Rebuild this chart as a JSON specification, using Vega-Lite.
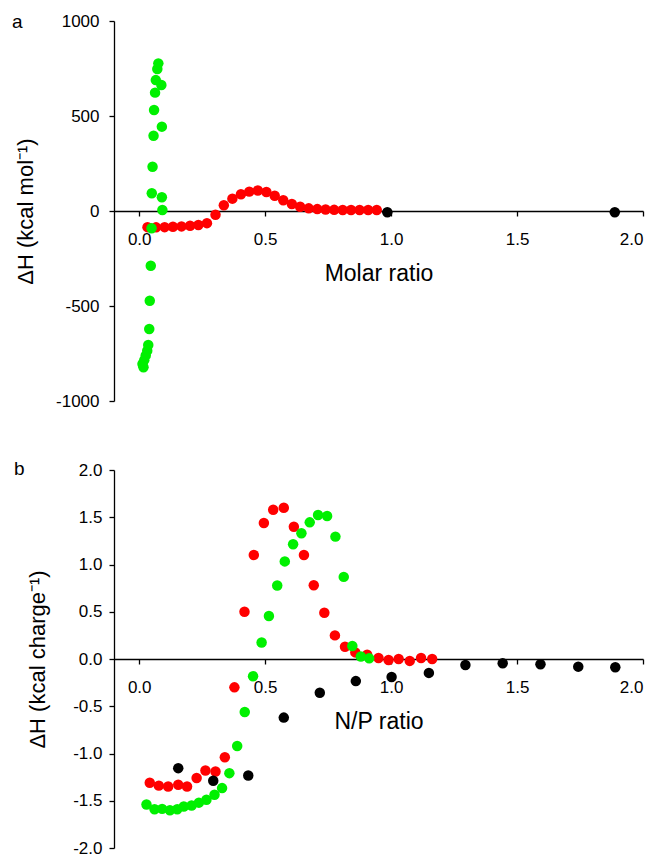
{
  "$schema": "https://vega.github.io/schema/vega-lite/v6.json",
  "background": "white",
  "padding": {"left": 12, "top": 12, "right": 5, "bottom": 0},
  "spacing": 51,
  "config": {
    "view": {"stroke": null},
    "axis": {
      "grid": false,
      "domainColor": "#000000",
      "tickColor": "#000000",
      "labelColor": "#000000",
      "titleColor": "#000000",
      "labelFont": "Liberation Sans",
      "titleFont": "Liberation Sans",
      "labelFontSize": 17,
      "titleFontSize": 22,
      "titleFontWeight": "normal",
      "domainWidth": 1.3,
      "tickWidth": 1.3,
      "tickSize": 5,
      "labelExpr": "replace(datum.label, '−', '-')"
    },
    "title": {"font": "Liberation Sans", "fontSize": 19, "fontWeight": "normal", "color": "#000000"}
  },
  "datasets": {
    "a": [
      {"s": "red", "x": 0.033, "y": -85},
      {"s": "red", "x": 0.067, "y": -86},
      {"s": "red", "x": 0.101, "y": -85},
      {"s": "red", "x": 0.134, "y": -83},
      {"s": "red", "x": 0.168, "y": -81},
      {"s": "red", "x": 0.202, "y": -78},
      {"s": "red", "x": 0.235, "y": -74},
      {"s": "red", "x": 0.269, "y": -64},
      {"s": "red", "x": 0.303, "y": -20},
      {"s": "red", "x": 0.336, "y": 30},
      {"s": "red", "x": 0.370, "y": 65},
      {"s": "red", "x": 0.404, "y": 88},
      {"s": "red", "x": 0.437, "y": 102},
      {"s": "red", "x": 0.471, "y": 108},
      {"s": "red", "x": 0.505, "y": 100},
      {"s": "red", "x": 0.538, "y": 80},
      {"s": "red", "x": 0.572, "y": 57},
      {"s": "red", "x": 0.606, "y": 37},
      {"s": "red", "x": 0.639, "y": 22},
      {"s": "red", "x": 0.673, "y": 14},
      {"s": "red", "x": 0.707, "y": 10},
      {"s": "red", "x": 0.740, "y": 8},
      {"s": "red", "x": 0.774, "y": 6},
      {"s": "red", "x": 0.808, "y": 5},
      {"s": "red", "x": 0.841, "y": 5},
      {"s": "red", "x": 0.875, "y": 5},
      {"s": "red", "x": 0.909, "y": 5},
      {"s": "red", "x": 0.943, "y": 5},
      {"s": "green", "x": 0.017, "y": -822},
      {"s": "green", "x": 0.013, "y": -805},
      {"s": "green", "x": 0.020, "y": -785},
      {"s": "green", "x": 0.026, "y": -760},
      {"s": "green", "x": 0.032, "y": -735},
      {"s": "green", "x": 0.036, "y": -705},
      {"s": "green", "x": 0.040, "y": -621},
      {"s": "green", "x": 0.042, "y": -472},
      {"s": "green", "x": 0.046, "y": -288},
      {"s": "green", "x": 0.049, "y": -91},
      {"s": "green", "x": 0.050, "y": 93},
      {"s": "green", "x": 0.053, "y": 233},
      {"s": "green", "x": 0.057, "y": 396},
      {"s": "green", "x": 0.059, "y": 532},
      {"s": "green", "x": 0.063, "y": 623},
      {"s": "green", "x": 0.066, "y": 689},
      {"s": "green", "x": 0.072, "y": 747},
      {"s": "green", "x": 0.076, "y": 777},
      {"s": "green", "x": 0.088, "y": 663},
      {"s": "green", "x": 0.090, "y": 444},
      {"s": "green", "x": 0.090, "y": 72},
      {"s": "green", "x": 0.092, "y": 5},
      {"s": "black", "x": 0.985, "y": -7},
      {"s": "black", "x": 1.888, "y": -7}
    ],
    "b": [
      {"s": "red", "x": 0.042, "y": -1.31},
      {"s": "red", "x": 0.078, "y": -1.34},
      {"s": "red", "x": 0.115, "y": -1.35},
      {"s": "red", "x": 0.155, "y": -1.33},
      {"s": "red", "x": 0.190, "y": -1.35},
      {"s": "red", "x": 0.228, "y": -1.26},
      {"s": "red", "x": 0.263, "y": -1.18},
      {"s": "red", "x": 0.303, "y": -1.19},
      {"s": "red", "x": 0.340, "y": -1.04},
      {"s": "red", "x": 0.378, "y": -0.30},
      {"s": "red", "x": 0.418, "y": 0.50},
      {"s": "red", "x": 0.455, "y": 1.10},
      {"s": "red", "x": 0.495, "y": 1.44},
      {"s": "red", "x": 0.532, "y": 1.58},
      {"s": "red", "x": 0.574, "y": 1.60},
      {"s": "red", "x": 0.614, "y": 1.40},
      {"s": "red", "x": 0.654, "y": 1.10},
      {"s": "red", "x": 0.693, "y": 0.78},
      {"s": "red", "x": 0.735, "y": 0.49},
      {"s": "red", "x": 0.777, "y": 0.25},
      {"s": "red", "x": 0.817, "y": 0.13},
      {"s": "red", "x": 0.858, "y": 0.07},
      {"s": "red", "x": 0.905, "y": 0.045},
      {"s": "red", "x": 0.950, "y": 0.01},
      {"s": "red", "x": 0.990, "y": -0.01},
      {"s": "red", "x": 1.030, "y": 0.0},
      {"s": "red", "x": 1.074, "y": -0.02},
      {"s": "red", "x": 1.119, "y": 0.01},
      {"s": "red", "x": 1.163, "y": 0.0},
      {"s": "green", "x": 0.029, "y": -1.54},
      {"s": "green", "x": 0.061, "y": -1.59},
      {"s": "green", "x": 0.091, "y": -1.586},
      {"s": "green", "x": 0.122, "y": -1.60},
      {"s": "green", "x": 0.151, "y": -1.59},
      {"s": "green", "x": 0.177, "y": -1.56},
      {"s": "green", "x": 0.208, "y": -1.55},
      {"s": "green", "x": 0.237, "y": -1.52},
      {"s": "green", "x": 0.267, "y": -1.49},
      {"s": "green", "x": 0.299, "y": -1.436},
      {"s": "green", "x": 0.329, "y": -1.366},
      {"s": "green", "x": 0.358, "y": -1.208},
      {"s": "green", "x": 0.389, "y": -0.92},
      {"s": "green", "x": 0.419, "y": -0.56},
      {"s": "green", "x": 0.452, "y": -0.182},
      {"s": "green", "x": 0.486, "y": 0.175},
      {"s": "green", "x": 0.515, "y": 0.455},
      {"s": "green", "x": 0.548, "y": 0.777},
      {"s": "green", "x": 0.578, "y": 1.033},
      {"s": "green", "x": 0.611, "y": 1.215},
      {"s": "green", "x": 0.644, "y": 1.331},
      {"s": "green", "x": 0.677, "y": 1.446},
      {"s": "green", "x": 0.710, "y": 1.523},
      {"s": "green", "x": 0.746, "y": 1.513},
      {"s": "green", "x": 0.779, "y": 1.295},
      {"s": "green", "x": 0.812, "y": 0.869},
      {"s": "green", "x": 0.846, "y": 0.137},
      {"s": "green", "x": 0.880, "y": 0.026},
      {"s": "green", "x": 0.913, "y": 0.007},
      {"s": "black", "x": 0.155, "y": -1.155},
      {"s": "black", "x": 0.294, "y": -1.288},
      {"s": "black", "x": 0.433, "y": -1.232},
      {"s": "black", "x": 0.574, "y": -0.62},
      {"s": "black", "x": 0.717, "y": -0.357},
      {"s": "black", "x": 0.860, "y": -0.234},
      {"s": "black", "x": 1.002, "y": -0.19},
      {"s": "black", "x": 1.150, "y": -0.147},
      {"s": "black", "x": 1.295, "y": -0.063},
      {"s": "black", "x": 1.443, "y": -0.045},
      {"s": "black", "x": 1.593, "y": -0.056},
      {"s": "black", "x": 1.743, "y": -0.081},
      {"s": "black", "x": 1.890, "y": -0.087}
    ]
  },
  "vconcat": [
    {
      "width": 529,
      "height": 380,
      "title": {"text": "a", "anchor": "start", "frame": "group", "dx": -102, "offset": -28, "baseline": "alphabetic", "dy": 7},
      "data": {"name": "a"},
      "mark": {"type": "circle", "size": 110, "opacity": 1},
      "encoding": {
        "x": {
          "field": "x", "type": "quantitative",
          "scale": {"domain": [-0.1, 2.0], "nice": false, "zero": false},
          "axis": {"values": [0, 0.5, 1, 1.5, 2], "format": ".1f", "offset": -190, "title": "Molar ratio", "titleFontSize": 23, "labelPadding": 15, "titlePadding": 15}
        },
        "y": {
          "field": "y", "type": "quantitative",
          "scale": {"domain": [-1000, 1000], "nice": false},
          "axis": {"values": [-1000, -500, 0, 500, 1000], "format": "d", "title": "ΔH (kcal mol⁻¹)", "labelPadding": 10, "titlePadding": 18}
        },
        "color": {
          "field": "s", "type": "nominal",
          "scale": {"domain": ["red", "green", "black"], "range": ["#ff0000", "#00f000", "#000000"]},
          "legend": null
        }
      }
    },
    {
      "width": 529,
      "height": 378,
      "title": {"text": "b", "anchor": "start", "frame": "group", "dx": -100, "offset": -28, "baseline": "alphabetic", "dy": 5},
      "data": {"name": "b"},
      "mark": {"type": "circle", "size": 110, "opacity": 1},
      "encoding": {
        "x": {
          "field": "x", "type": "quantitative",
          "scale": {"domain": [-0.1, 2.0], "nice": false, "zero": false},
          "axis": {"values": [0, 0.5, 1, 1.5, 2], "format": ".1f", "offset": -189, "title": "N/P ratio", "titleFontSize": 23, "labelPadding": 15, "titlePadding": 15}
        },
        "y": {
          "field": "y", "type": "quantitative",
          "scale": {"domain": [-2, 2], "nice": false},
          "axis": {"values": [-2, -1.5, -1, -0.5, 0, 0.5, 1, 1.5, 2], "format": ".1f", "title": "ΔH (kcal charge⁻¹)", "labelPadding": 7, "titlePadding": 23}
        },
        "color": {
          "field": "s", "type": "nominal",
          "scale": {"domain": ["red", "green", "black"], "range": ["#ff0000", "#00f000", "#000000"]},
          "legend": null
        }
      }
    }
  ]
}
